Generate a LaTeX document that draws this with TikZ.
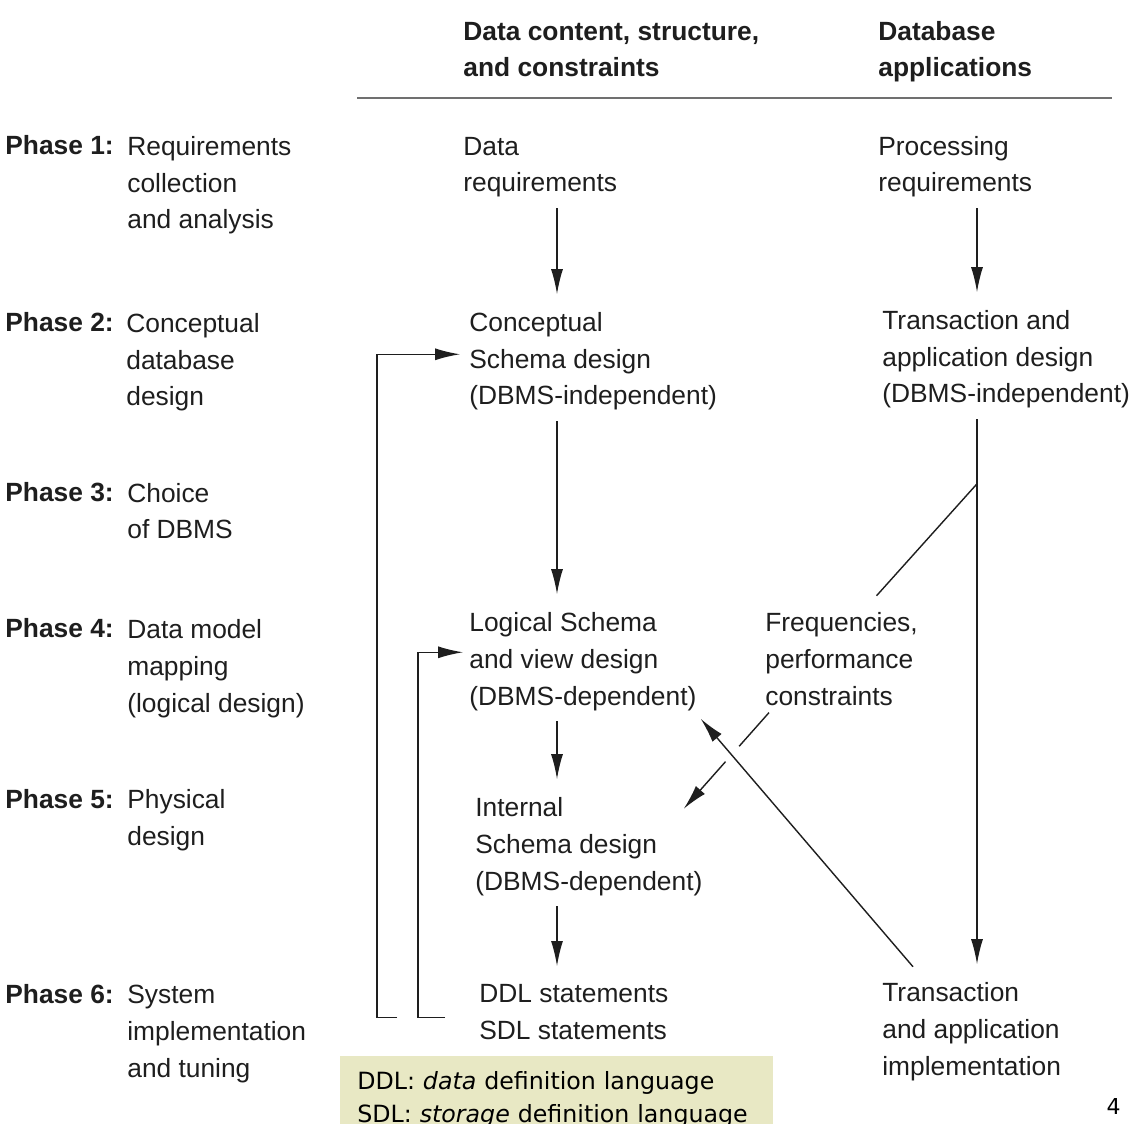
\documentclass[tikz,border=0pt]{standalone}
\usepackage{fontspec}
\setmainfont{Liberation Sans}
\newfontfamily\notefont{DejaVu Sans}
\usetikzlibrary{arrows.meta,calc,positioning}

\definecolor{ink}{HTML}{1E1E1E}
\definecolor{rulegray}{HTML}{707070}
\definecolor{notebg}{HTML}{E8E8C4}

\begin{document}
\begin{tikzpicture}[x=0.02cm, y=-0.02cm, >={Latex[length=5mm,width=2.4mm]},
    txt/.style={anchor=base west, align=left, inner sep=0pt, text=ink,
      font=\fontsize{15}{21}\selectfont},
    head/.style={txt, font=\fontsize{15}{21}\selectfont\bfseries},
    flow/.style={draw=ink, line width=0.8pt},
    note/.style={anchor=north west, fill=notebg, align=left, text width=7.98cm,
      inner xsep=0.34cm, inner ysep=0.3cm, font=\notefont\fontsize{13.5}{18.8}\selectfont}]
    \useasboundingbox (0,0) rectangle (1146,1124);
    \clip (0,0) rectangle (1146,1124);

    \node[head] (hdata) at (463,77) {Data content, structure,\\and constraints};
    \node[head] (happ) at (878,77) {Database\\applications};
    \draw[rulegray, line width=1.1pt] (357,98) -- (1112,98);

    \foreach \n/\y in {1/155, 2/332, 3/502, 4/638, 5/808, 6/1003}
      \node[head] (phase\n) at (5,\y) {Phase \n:};
    \node[txt] (ph1) at (127,229) {Requirements\\collection\\and analysis};
    \node[txt] (ph2) at (126,406) {Conceptual\\database\\design};
    \node[txt] (ph3) at (127,539) {Choice\\of DBMS};
    \node[txt] (ph4) at (127,712) {Data model\\mapping\\(logical design)};
    \node[txt] (ph5) at (127,845) {Physical\\design};
    \node[txt] (ph6) at (127,1077) {System\\implementation\\and tuning};

    \node[txt] (dreq) at (463,192) {Data\\requirements};
    \node[txt] (concept) at (469,405) {Conceptual\\Schema design\\(DBMS-independent)};
    \node[txt] (logical) at (469,705) {Logical Schema\\and view design\\(DBMS-dependent)};
    \node[txt] (internal) at (475,890) {Internal\\Schema design\\(DBMS-dependent)};
    \node[txt] (ddl) at (479,1039) {DDL statements\\SDL statements};

    \node[txt] (preq) at (878,192) {Processing\\requirements};
    \node[txt] (trans) at (882,403) {Transaction and\\application design\\(DBMS-independent)};
    \node[txt] (freq) at (765,705) {Frequencies,\\performance\\constraints};
    \node[txt] (impl) at (882,1075) {Transaction\\and application\\implementation};

    \coordinate (midcol) at (557,0);
    \coordinate (appcol) at (977,0);

    \path[->, color=ink, line width=0.8pt, shorten <=6pt, shorten >=10pt]
      (dreq.south -| midcol) edge (concept.north -| midcol)
      (concept.south -| midcol) edge (logical.north -| midcol)
      (logical.south -| midcol) edge (internal.north -| midcol)
      (internal.south -| midcol) edge (ddl.north -| midcol)
      (preq.south -| appcol) edge (trans.north -| appcol)
      (trans.south -| appcol) edge (impl.north -| appcol);

    \coordinate (tap) at ($(trans.south -| appcol)+(0,75)$);
    \draw[flow] (tap) -- ([shift={(35,-16)}]freq.north);

    \coordinate (fqout) at ([shift={(4,7)}]freq.south west);
    \coordinate (intin) at ([shift={(-19,12)}]internal.north east);
    \draw[flow] (fqout) -- ($(fqout)!0.35!(intin)$);
    \draw[flow,->] ($(fqout)!0.51!(intin)$) -- (intin);

    \draw[flow,->] ([shift={(31,-15)}]impl.north west) -- ([shift={(4,8)}]logical.south east);

    \draw[flow,->] ([shift={(-82,6)}]ddl.west) -- ++(-20,0) |- ([shift={(-9,-7)}]concept.west);
    \draw[flow,->] ([shift={(-34,6)}]ddl.west) -- ++(-27,0) |- ([shift={(-6,-9)}]logical.west);

    \node[note] (legend) at (340,1056) {DDL: \textit{data} definition language\\SDL: \textit{storage} definition language};
    \node[anchor=base east, inner sep=0pt, font=\notefont\fontsize{12.5}{15}\selectfont] (pageno) at (1121,1114) {4};
\end{tikzpicture}
\end{document}
